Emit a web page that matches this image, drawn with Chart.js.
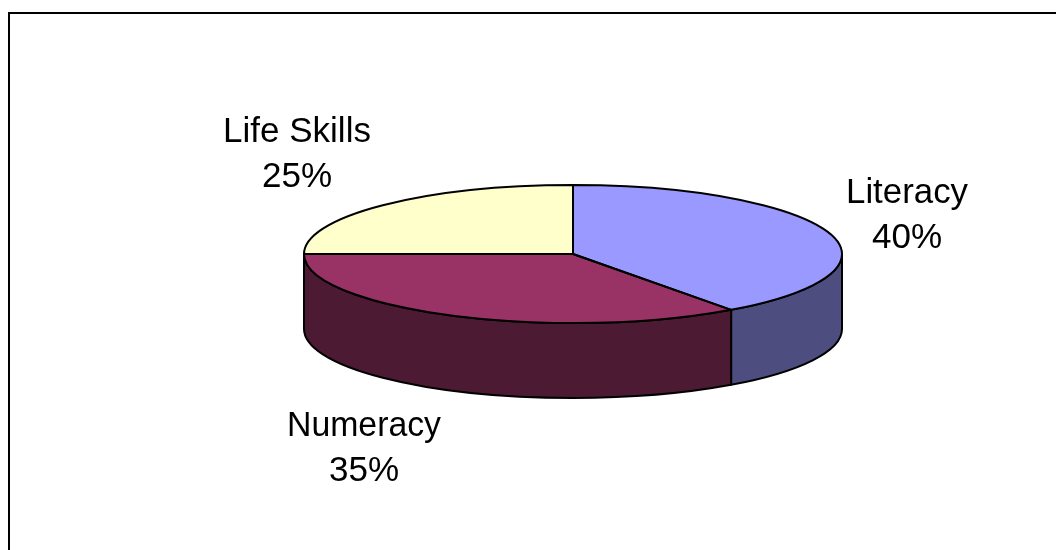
<!DOCTYPE html>
<html>
<head>
<meta charset="utf-8">
<title>Pie</title>
<script src="https://cdn.jsdelivr.net/npm/chart.js@4/dist/chart.umd.min.js"></script>
<style>
  html, body { margin: 0; padding: 0; background: #fff; }
  canvas { display: block; }
</style>
</head>
<body>
<canvas id="pie_chart" width="1056" height="550"></canvas>
<script>
// chart data
const categories = ["Literacy", "Numeracy", "Life Skills"];
const shares = [40, 35, 25];

// slice colours, top face and side wall
const top_colors = ["#9999FF", "#993366", "#FFFFCC"];
const side_colors = ["#4D4D80", "#4D1A33", "#808066"];

// look of the tilted pie
const radius_x = 269;
const radius_y = 69;
const depth = 75;
const font_size = 35;
const line_height = 45;

// centre x and first baseline of each label, and the widest it may get
const label_spots = [[907, 203], [364, 436], [297, 142]];
const label_widths = [122, 154, 148];

function slice_angles(arc) {
  return arc.getProps(["x", "y", "startAngle", "endAngle"], true);
}

// the side walls go under the top face, then the top face is squashed into an ellipse
const tilt_plugin = {
  id: "tilt",
  beforeDraw(chart) {
    const ctx = chart.ctx;
    ctx.save();
    ctx.fillStyle = "#fff";
    ctx.fillRect(0, 0, chart.width, chart.height);
    ctx.strokeStyle = "#000";
    ctx.lineWidth = 2;
    ctx.strokeRect(9, 13, chart.width + 20, chart.height + 20);
    ctx.restore();
  },
  beforeDatasetsDraw(chart) {
    const ctx = chart.ctx;
    const arcs = chart.getDatasetMeta(0).data;

    ctx.save();
    ctx.lineWidth = 2;
    ctx.strokeStyle = "#000";
    ctx.lineJoin = "round";
    arcs.forEach((arc, i) => {
      const p = slice_angles(arc);
      const from = Math.max(p.startAngle, 0);
      const to = Math.min(p.endAngle, Math.PI);
      if (from >= to) return;
      ctx.beginPath();
      ctx.ellipse(p.x, p.y, radius_x, radius_y, 0, from, to);
      ctx.ellipse(p.x, p.y + depth, radius_x, radius_y, 0, to, from, true);
      ctx.closePath();
      ctx.fillStyle = side_colors[i];
      ctx.fill();
      ctx.stroke();
    });
    ctx.restore();

    const first = slice_angles(arcs[0]);
    ctx.save();
    ctx.translate(first.x, first.y);
    ctx.scale(1, radius_y / radius_x);
    ctx.translate(-first.x, -first.y);
  },
  afterDatasetsDraw(chart) {
    const ctx = chart.ctx;
    ctx.restore();

    ctx.save();
    ctx.lineWidth = 2;
    ctx.strokeStyle = "#000";
    ctx.lineJoin = "round";
    chart.getDatasetMeta(0).data.forEach(arc => {
      const p = slice_angles(arc);
      ctx.beginPath();
      ctx.moveTo(p.x, p.y);
      ctx.ellipse(p.x, p.y, radius_x, radius_y, 0, p.startAngle, p.endAngle);
      ctx.closePath();
      ctx.stroke();
    });
    ctx.restore();
  },
  afterDraw(chart) {
    const ctx = chart.ctx;
    const total = shares.reduce((a, b) => a + b, 0);
    ctx.save();
    ctx.fillStyle = "#000";
    ctx.font = font_size + 'px "Liberation Sans", Arial, sans-serif';
    ctx.textAlign = "center";
    ctx.textBaseline = "alphabetic";
    categories.forEach((name, i) => {
      const [x, y] = label_spots[i];
      ctx.fillText(name, x, y, label_widths[i]);
      ctx.fillText(Math.round(shares[i] / total * 100) + "%", x, y + line_height);
    });
    ctx.restore();
  }
};

const ctx = document.getElementById("pie_chart").getContext("2d");

const chart = new Chart(ctx, {
  type: "pie",
  data: {
    labels: categories,
    datasets: [{
      data: shares,
      backgroundColor: top_colors,
      borderWidth: 0,
      clip: false
    }]
  },
  options: {
    responsive: false,
    animation: false,
    radius: radius_x,
    // puts the centre of the pie at 573, 254
    layout: { padding: { left: 90, bottom: 42 } },
    plugins: {
      legend: { display: false },
      tooltip: { enabled: false }
    }
  },
  plugins: [tilt_plugin]
});
</script>
</body>
</html>
